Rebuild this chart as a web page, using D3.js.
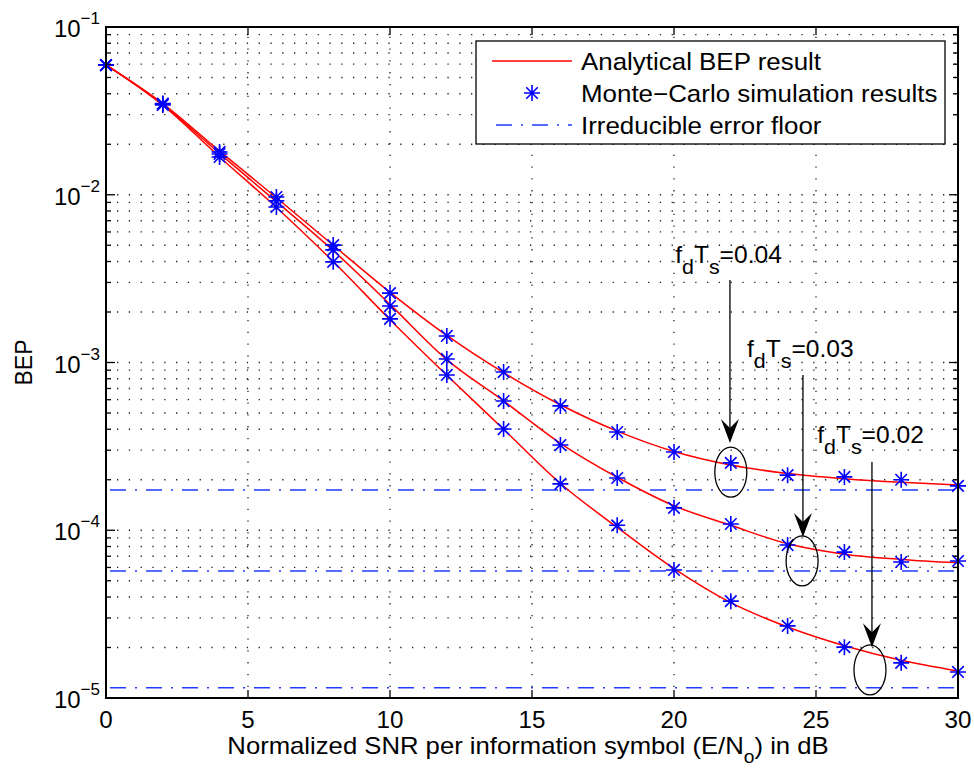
<!DOCTYPE html>
<html>
<head>
<meta charset="utf-8">
<script src="https://cdn.jsdelivr.net/npm/d3@7"></script>
<style>
  body { margin: 0; background: #fff; }
  svg { font-family: "Liberation Sans", Arial, sans-serif; }
</style>
</head>
<body>
<div id="chart"></div>
<script>
// BEP vs normalized SNR for three Doppler spreads (fdTs)

const snr = [0, 2, 4, 6, 8, 10, 12, 14, 16, 18, 20, 22, 24, 26, 28, 30];

// analytical curves
const ana04 = [0.0595, 0.0350, 0.0182, 0.0096, 0.00500, 0.00262, 0.00145, 0.000870, 0.000560, 0.000390, 0.000295, 0.000245, 0.000218, 0.000203, 0.000193, 0.000186];
const ana03 = [0.0595, 0.0346, 0.0176, 0.0091, 0.00465, 0.00222, 0.00104, 0.000590, 0.000330, 0.000207, 0.000140, 0.000107, 0.0000830, 0.0000720, 0.0000670, 0.0000640];
const ana02 = [0.0595, 0.0342, 0.0168, 0.0084, 0.00400, 0.00180, 0.000840, 0.000400, 0.000190, 0.000104, 0.0000590, 0.0000370, 0.0000265, 0.0000205, 0.0000168, 0.0000145];

// monte-carlo points
const sim04 = [0.0593, 0.0350, 0.0180, 0.0097, 0.00501, 0.00259, 0.00144, 0.000877, 0.000551, 0.000385, 0.000293, 0.000252, 0.000213, 0.000208, 0.000200, 0.000184];
const sim03 = [0.0593, 0.0347, 0.0175, 0.0092, 0.00469, 0.00217, 0.00105, 0.000589, 0.000322, 0.000205, 0.000136, 0.000109, 0.0000816, 0.0000741, 0.0000647, 0.0000656];
const sim02 = [0.0593, 0.0343, 0.0168, 0.00845, 0.00398, 0.00182, 0.000843, 0.000401, 0.000189, 0.000107, 0.0000580, 0.0000378, 0.0000269, 0.0000201, 0.0000162, 0.0000143];

// irreducible error floors
const floors = [1.74e-4, 5.71e-5, 1.15e-5];

const xTicks = [0, 5, 10, 15, 20, 25, 30];
const yTicks = [1e-1, 1e-2, 1e-3, 1e-4, 1e-5];
const yExp = ["\u22121", "\u22122", "\u22123", "\u22124", "\u22125"];

const legendLabels = ["Analytical BEP result", "Monte\u2212Carlo simulation results", "Irreducible error floor"];

// annotations: label value, text pos, arrow from/to, ellipse centre (data units)
const notes = [
  { val: "0.04", tx: 20.04, ty: 3.92e-3, ax: 21.97, ay0: 3.10e-3, ay1: 3.31e-4, ex: 22.0, ey: 2.22e-4 },
  { val: "0.03", tx: 22.57, ty: 1.08e-3, ax: 24.54, ay0: 8.43e-4, ay1: 9.12e-5, ex: 24.51, ey: 6.56e-5 },
  { val: "0.02", tx: 25.04, ty: 3.31e-4, ax: 26.97, ay0: 2.55e-4, ay1: 2.01e-5, ex: 26.90, ey: 1.47e-5 }
];

const width = 974;
const height = 774;
const margin = { top: 27, right: 16, bottom: 76, left: 106 };
const stretch = 1.07; // text in the source is a bit wide

const svg = d3.select("#chart")
  .append("svg")
  .attr("width", width)
  .attr("height", height);

const x = d3.scaleLinear()
  .domain([0, 30])
  .range([margin.left, width - margin.right]);

const y = d3.scaleLog()
  .domain([1e-5, 1e-1])
  .range([height - margin.bottom, margin.top]);

const x0 = margin.left, x1 = width - margin.right;
const y0 = height - margin.bottom, y1 = margin.top;

// minor log positions
const minorY = [];
for(let e = -5; e < -1; e++){
  for(let k = 1; k < 10; k++) minorY.push(k * Math.pow(10, e));
}
minorY.push(1e-1);

// grid
const grid = svg.append("g");
grid.selectAll(".hg")
  .data(minorY.filter(v => v > 1e-5 && v < 1e-1))
  .enter()
  .append("line")
  .attr("x1", x0).attr("x2", x1)
  .attr("y1", d => y(d)).attr("y2", d => y(d))
  .attr("stroke", "#222")
  .attr("stroke-width", 1.3)
  .attr("stroke-dasharray", "1.3,10.5")
  .attr("stroke-dashoffset", -11);

grid.selectAll(".vg")
  .data(xTicks.slice(1, -1))
  .enter()
  .append("line")
  .attr("x1", d => x(d)).attr("x2", d => x(d))
  .attr("y1", y0).attr("y2", y1)
  .attr("stroke", "#222")
  .attr("stroke-width", 1.3)
  .attr("stroke-dasharray", "1.3,10.5")
  .attr("stroke-dashoffset", -11);

const dashDot = "16,9,2,9";

// error floors
svg.selectAll(".floor")
  .data(floors)
  .enter()
  .append("line")
  .attr("x1", x(0)).attr("x2", x(30))
  .attr("y1", d => y(d)).attr("y2", d => y(d))
  .attr("stroke", "#1f3cff")
  .attr("stroke-width", 1.5)
  .attr("stroke-dasharray", dashDot)
  .attr("stroke-dashoffset", -4);

// analytical lines
const line = d3.line()
  .x((d, i) => x(snr[i]))
  .y(d => y(d))
  .curve(d3.curveMonotoneX);

svg.selectAll(".ana")
  .data([ana04, ana03, ana02])
  .enter()
  .append("path")
  .attr("d", d => line(d))
  .attr("fill", "none")
  .attr("stroke", "#ff0000")
  .attr("stroke-width", 1.5);

// star marker path
function starPath(r){
  const q = r * 0.72;
  return `M${-r},0L${r},0M0,${-r}L0,${r}M${-q},${-q}L${q},${q}M${-q},${q}L${q},${-q}`;
}

const simPts = [];
[sim04, sim03, sim02].forEach(s => s.forEach((v, i) => simPts.push({ x: snr[i], v: v })));

svg.selectAll(".sim")
  .data(simPts)
  .enter()
  .append("path")
  .attr("transform", d => `translate(${x(d.x)},${y(d.v)})`)
  .attr("d", starPath(8))
  .attr("fill", "none")
  .attr("stroke", "#0000ff")
  .attr("stroke-width", 1.6);

// annotations
const ann = svg.append("g");
notes.forEach(n => {
  const t = ann.append("text")
    .attr("transform", `translate(${x(n.tx)},${y(n.ty)}) scale(${stretch},1)`)
    .style("font-size", "23px");
  t.append("tspan").text("f");
  t.append("tspan").attr("dy", 11).style("font-size", "20px").text("d");
  t.append("tspan").attr("dy", -11).text("T");
  t.append("tspan").attr("dy", 11).style("font-size", "20px").text("s");
  t.append("tspan").attr("dy", -11).text("=" + n.val);

  const tipY = y(n.ay1);
  ann.append("line")
    .attr("x1", x(n.ax)).attr("x2", x(n.ax))
    .attr("y1", y(n.ay0)).attr("y2", tipY - 8)
    .attr("stroke", "#000")
    .attr("stroke-width", 1.3);

  const ax = x(n.ax);
  ann.append("path")
    .attr("d", `M${ax},${tipY}L${ax - 9},${tipY - 24}L${ax},${tipY - 15}L${ax + 9},${tipY - 24}Z`)
    .attr("fill", "#000");

  ann.append("ellipse")
    .attr("cx", x(n.ex))
    .attr("cy", y(n.ey))
    .attr("rx", 16)
    .attr("ry", 25)
    .attr("fill", "none")
    .attr("stroke", "#000")
    .attr("stroke-width", 1.3);
});

// ticks
const ticks = svg.append("g").attr("stroke", "#000").attr("stroke-width", 1.3);
xTicks.forEach(t => {
  ticks.append("line").attr("x1", x(t)).attr("x2", x(t)).attr("y1", y0).attr("y2", y0 - 8);
  ticks.append("line").attr("x1", x(t)).attr("x2", x(t)).attr("y1", y1).attr("y2", y1 + 8);
});
minorY.forEach(v => {
  const major = Math.abs(Math.log10(v) - Math.round(Math.log10(v))) < 1e-9;
  const len = major ? 9 : 5;
  ticks.append("line").attr("x1", x0).attr("x2", x0 + len).attr("y1", y(v)).attr("y2", y(v));
  ticks.append("line").attr("x1", x1).attr("x2", x1 - len).attr("y1", y(v)).attr("y2", y(v));
});

// frame
svg.append("rect")
  .attr("x", x0).attr("y", y1)
  .attr("width", x1 - x0).attr("height", y0 - y1)
  .attr("fill", "none")
  .attr("stroke", "#000")
  .attr("stroke-width", 2);

// tick labels
svg.selectAll(".xl")
  .data(xTicks)
  .enter()
  .append("text")
  .attr("transform", d => `translate(${x(d)},${y0 + 30}) scale(1.05,1)`)
  .attr("text-anchor", "middle")
  .style("font-size", "23px")
  .text(d => d);

yTicks.forEach((v, i) => {
  const t = svg.append("text")
    .attr("x", x0 - 6)
    .attr("y", y(v) + 10)
    .attr("text-anchor", "end")
    .style("font-size", "24px");
  t.append("tspan").text("10");
  t.append("tspan").attr("dy", -13).style("font-size", "17px").text(yExp[i]);
});

// axis labels
const xl = svg.append("text")
  .attr("transform", `translate(${(x0 + x1) / 2 - 4},${y0 + 56}) scale(${stretch},1)`)
  .attr("text-anchor", "middle")
  .style("font-size", "24px");
xl.append("tspan").text("Normalized SNR per information symbol (E/N");
xl.append("tspan").attr("dy", 9).style("font-size", "18px").text("o");
xl.append("tspan").attr("dy", -9).text(") in dB");

svg.append("text")
  .attr("transform", `translate(32,${(y0 + y1) / 2}) rotate(-90)`)
  .attr("text-anchor", "middle")
  .style("font-size", "23px")
  .text("BEP");

// legend
const lg = svg.append("g");
lg.append("rect")
  .attr("x", 476).attr("y", 41)
  .attr("width", 469).attr("height", 103)
  .attr("fill", "#fff")
  .attr("stroke", "#000")
  .attr("stroke-width", 1.3);

const rowY = [61, 93, 125];
lg.append("line").attr("x1", 492).attr("x2", 572).attr("y1", rowY[0]).attr("y2", rowY[0])
  .attr("stroke", "#ff0000").attr("stroke-width", 1.5);
lg.append("path").attr("transform", `translate(532,${rowY[1]})`).attr("d", starPath(8))
  .attr("fill", "none").attr("stroke", "#0000ff").attr("stroke-width", 1.6);
lg.append("line").attr("x1", 492).attr("x2", 572).attr("y1", rowY[2]).attr("y2", rowY[2])
  .attr("stroke", "#1f3cff").attr("stroke-width", 1.5).attr("stroke-dasharray", dashDot).attr("stroke-dashoffset", -4);

lg.selectAll(".lt")
  .data(legendLabels)
  .enter()
  .append("text")
  .attr("transform", (d, i) => `translate(581,${rowY[i] + 9}) scale(1.08,1)`)
  .style("font-size", "24px")
  .text(d => d);
</script>
</body>
</html>
